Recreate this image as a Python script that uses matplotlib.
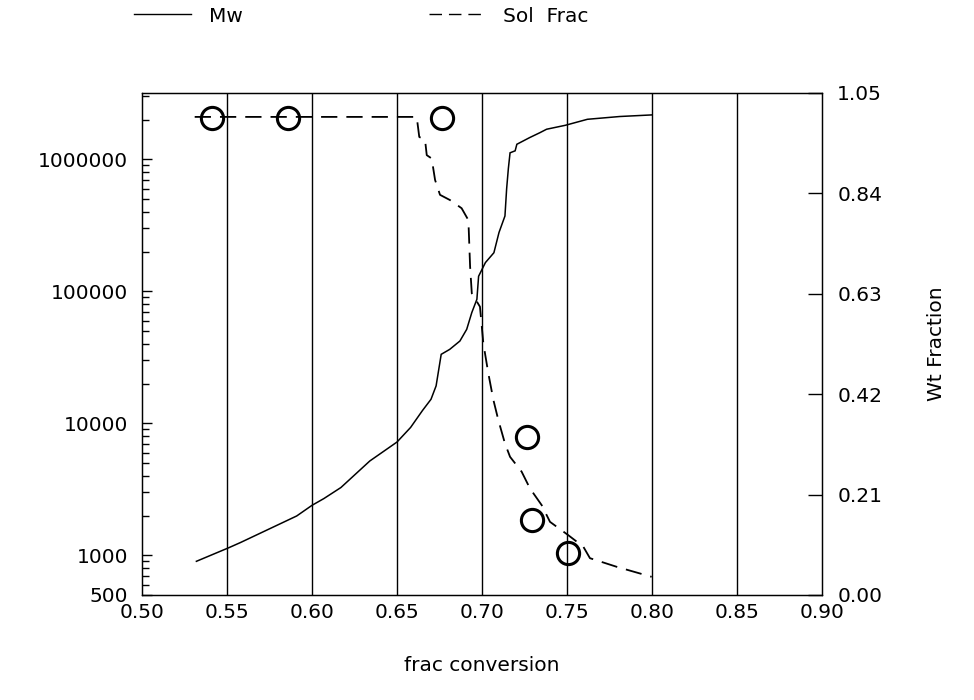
import matplotlib
matplotlib.use("Agg")
import matplotlib.pyplot as plt
from matplotlib.lines import Line2D
from matplotlib.ticker import FixedLocator, LogLocator, NullFormatter

plt.rcParams['font.family'] = ['DejaVu Sans']

# Mw curve (left log axis)
mw_x = [0.532, 0.551, 0.558, 0.591, 0.600, 0.607, 0.617, 0.634, 0.650, 0.658,
        0.665, 0.670, 0.673, 0.676, 0.681, 0.687, 0.691, 0.694, 0.697, 0.698,
        0.702, 0.707, 0.710, 0.7135, 0.7145, 0.7155, 0.7165, 0.7195, 0.7205,
        0.728, 0.734, 0.738, 0.749, 0.762, 0.781, 0.800]
mw_y = [900, 1140, 1250, 1985, 2390, 2690, 3260, 5180, 7210, 9300,
        12500, 15200, 19200, 33300, 36300, 42000, 51500, 69000, 87000, 130000,
        165000, 196000, 279000, 372000, 600000, 850000, 1120000, 1160000, 1300000,
        1460000, 1590000, 1690000, 1810000, 2010000, 2110000, 2170000]

# Sol Frac curve (right axis)
sf_x = [0.531, 0.6616, 0.6631, 0.6665, 0.6675, 0.6704, 0.6724, 0.6753, 0.6812,
        0.688, 0.692, 0.693, 0.694, 0.6988, 0.7008, 0.7037, 0.7067, 0.7096,
        0.7135, 0.7165, 0.7233, 0.7282, 0.7351, 0.740, 0.7508, 0.7596, 0.7635,
        0.7792, 0.7998]
sf_y = [1.0, 1.0, 0.958, 0.952, 0.920, 0.913, 0.868, 0.837, 0.826,
        0.809, 0.784, 0.687, 0.631, 0.603, 0.526, 0.464, 0.408, 0.366,
        0.317, 0.289, 0.258, 0.223, 0.188, 0.153, 0.125, 0.101, 0.077,
        0.059, 0.038]

# measured sol fraction points
pt_x = [0.541, 0.5857, 0.6763, 0.7263, 0.7292, 0.7508]
pt_y = [0.997, 0.997, 0.997, 0.331, 0.157, 0.087]

x_ticks = [0.50, 0.55, 0.60, 0.65, 0.70, 0.75, 0.80, 0.85, 0.90]
x_tick_labels = ["0.50", "0.55", "0.60", "0.65", "0.70", "0.75", "0.80", "0.85", "0.90"]
left_ticks = [500, 1000, 10000, 100000, 1000000]
left_tick_labels = ["500", "1000", "10000", "100000", "1000000"]
right_ticks = [0.00, 0.21, 0.42, 0.63, 0.84, 1.05]
right_tick_labels = ["0.00", "0.21", "0.42", "0.63", "0.84", "1.05"]

fig = plt.figure(figsize=(9.74, 7.0), dpi=100)
ax = fig.add_axes([142/974, 105/700, 680/974, 502/700])
ax2 = ax.twinx()

fs = 14.5

ax.plot(mw_x, mw_y, color='black', lw=1.1, solid_joinstyle='miter')
ax.set_yscale('log')
ax.set_ylim(500, 3.18e6)
ax.set_xlim(0.5, 0.9)
for gx in x_ticks[1:-1]:
    ax.axvline(gx, color='black', lw=1.0, zorder=1)

ax.yaxis.set_major_locator(FixedLocator(left_ticks))
ax.set_yticklabels(left_tick_labels)
ax.yaxis.set_minor_locator(LogLocator(base=10, subs=range(2, 10)))
ax.yaxis.set_minor_formatter(NullFormatter())
ax.tick_params(axis='y', which='major', direction='in', length=7, width=1, pad=10, labelsize=fs)
ax.tick_params(axis='y', which='minor', direction='in', length=5, width=1)
ax.set_xticks(x_ticks)
ax.set_xticklabels(x_tick_labels)
ax.tick_params(axis='x', length=0, pad=6, labelsize=fs)
ax.set_xlabel("frac conversion", fontsize=fs, labelpad=24)

ax2.plot(sf_x, sf_y, color='black', lw=1.3, dashes=(9, 5))
ax2.plot(pt_x, pt_y, linestyle='none', marker='o', markersize=16,
         markerfacecolor='none', markeredgecolor='black', markeredgewidth=2.2)
ax2.set_ylim(0, 1.05)
ax2.set_yticks(right_ticks)
ax2.set_yticklabels(right_tick_labels)
ax2.tick_params(axis='y', direction='in', length=10, width=1, pad=11, labelsize=fs)
ax2.set_ylabel("Wt Fraction", fontsize=fs, labelpad=32)

for a in (ax, ax2):
    for s in a.spines.values():
        s.set_linewidth(0.9)
        s.set_color('black')

handles = [Line2D([], [], color='black', lw=1.0),
           Line2D([], [], color='black', lw=1.0, dashes=(9, 5))]
fig.legend(handles, ["Mw", "Sol  Frac"], loc='center left',
           bbox_to_anchor=(116/974, 1 - 16/700), ncol=2, frameon=False,
           fontsize=fs, handlelength=2.8, handletextpad=0.9, columnspacing=9.25)

fig.savefig("out.png", dpi=100)
